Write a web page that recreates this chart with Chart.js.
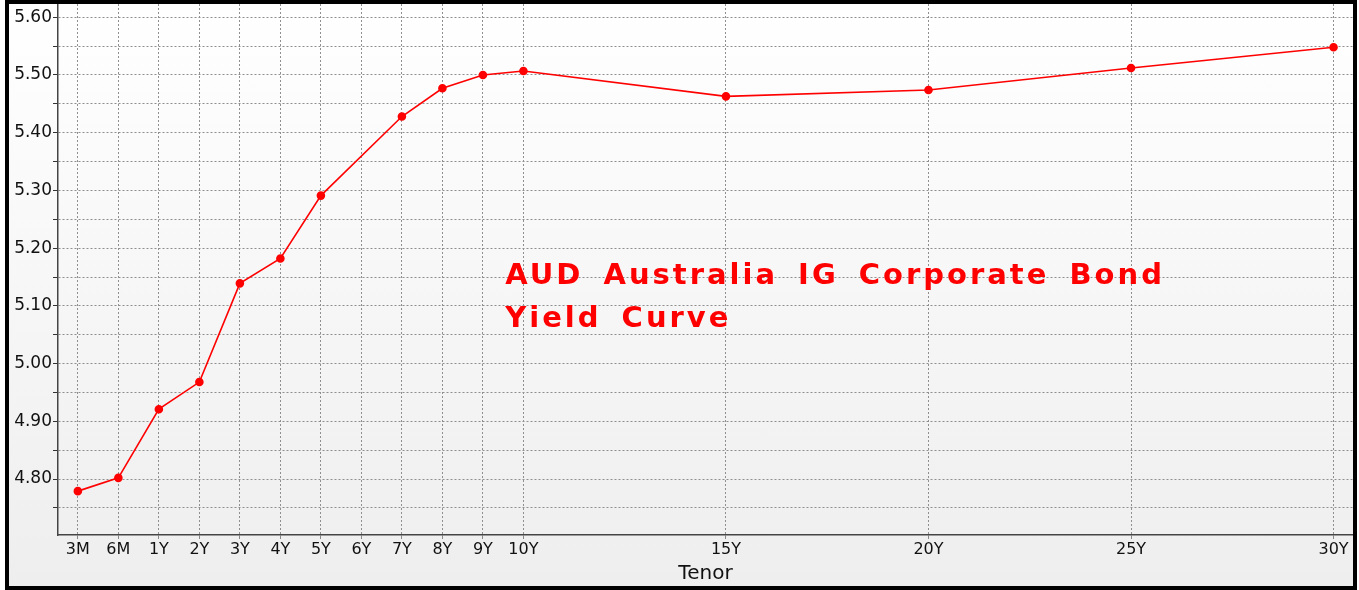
<!DOCTYPE html>
<html>
<head>
<meta charset="utf-8">
<script src="https://cdn.jsdelivr.net/npm/chart.js@4"></script>
<style>
  html, body { margin: 0; padding: 0; background: #fff; }
  #frame {
    position: absolute; left: 5px; top: 0; width: 1352px; height: 590px;
    box-sizing: border-box; border: 4px solid #000;
    background: linear-gradient(to bottom, #ffffff 0%, #eeeeee 100%);
  }
  #frame canvas { display: block; }
</style>
</head>
<body>
<div id="frame"><canvas id="curve" width="1344" height="582"></canvas></div>
<script>
// tenor labels and their slot on the x axis (3M/6M sit one slot apart like the years)
const tenors   = ["3M", "6M", "1Y", "2Y", "3Y", "4Y", "5Y", "6Y", "7Y", "8Y", "9Y", "10Y", "15Y", "20Y", "25Y", "30Y"];
const tenorPos = [-1, 0, 1, 2, 3, 4, 5, 6, 7, 8, 9, 10, 15, 20, 25, 30];
// yields in %, 6Y has no quote
const yields   = [4.779, 4.802, 4.921, 4.968, 5.139, 5.182, 5.291, null, 5.428, 5.477, 5.500, 5.507, 5.463, 5.474, 5.512, 5.548];
const yTicks   = [4.75, 4.80, 4.85, 4.90, 4.95, 5.00, 5.05, 5.10, 5.15, 5.20, 5.25, 5.30, 5.35, 5.40, 5.45, 5.50, 5.55, 5.60];

const titleLines = ["AUD Australia IG Corporate Bond", "Yield Curve"];

const titlePlugin = {
  id: "titleText",
  afterDatasetsDraw(chart) {
    const ctx = chart.ctx;
    const x = chart.scales.x.getPixelForValue(9.55);
    const y = chart.scales.y.getPixelForValue(5.138);
    ctx.save();
    ctx.fillStyle = "#ff0000";
    ctx.font = "bold 29px 'DejaVu Sans'";
    ctx.letterSpacing = "3px";
    ctx.wordSpacing = "7px";
    ctx.textBaseline = "alphabetic";
    titleLines.forEach((t, i) => {
      ctx.fillText(t, x, y + i * 43);
    });
    ctx.restore();
  }
};

new Chart(document.getElementById("curve"), {
  type: "line",
  data: {
    datasets: [{
      label: "Yield",
      data: tenorPos.map((p, i) => ({ x: p, y: yields[i] })),
      borderColor: "#ff0000",
      backgroundColor: "#ff0000",
      borderWidth: 1.6,
      pointRadius: 3.5,
      pointHoverRadius: 3.5,
      spanGaps: true,
      tension: 0,
      fill: false
    }]
  },
  options: {
    responsive: false,
    animation: false,
    layout: { padding: 0, autoPadding: false },
    plugins: { legend: { display: false }, tooltip: { enabled: false } },
    scales: {
      x: {
        type: "linear",
        min: -1.49,
        max: 30.48,
        afterBuildTicks: s => { s.ticks = tenorPos.map(v => ({ value: v })); },
        afterFit: s => { s.height = 51; s.paddingLeft = 0; s.paddingRight = 0; },
        ticks: {
          autoSkip: false,
          maxRotation: 0,
          padding: 1,
          color: "#111",
          font: { family: "DejaVu Sans", size: 16 },
          callback: (v, i) => tenors[i]
        },
        grid: {
          color: "#8f8f8f",
          tickLength: 4,
          tickColor: "#888",
          tickBorderDash: []
        },
        border: { color: "#444", width: 1.5, dash: [2, 2] },
        title: {
          display: true,
          text: "Tenor",
          color: "#111",
          font: { family: "DejaVu Sans", size: 20 },
          padding: { top: 0, bottom: 0 }
        }
      },
      y: {
        min: 4.703,
        max: 5.623,
        afterBuildTicks: s => { s.ticks = yTicks.map(v => ({ value: v })); },
        afterFit: s => { s.width = 49; s.paddingTop = 0; s.paddingBottom = 0; },
        ticks: {
          padding: 1,
          color: "#111",
          font: { family: "DejaVu Sans", size: 17 },
          callback: v => (Math.round(v * 100) % 10 === 0 ? v.toFixed(2) : "")
        },
        grid: {
          color: "#8f8f8f",
          tickLength: 5,
          tickColor: "#333",
          tickBorderDash: []
        },
        border: { color: "#444", width: 1.5, dash: [2, 2] }
      }
    }
  },
  plugins: [titlePlugin]
});
</script>
</body>
</html>
